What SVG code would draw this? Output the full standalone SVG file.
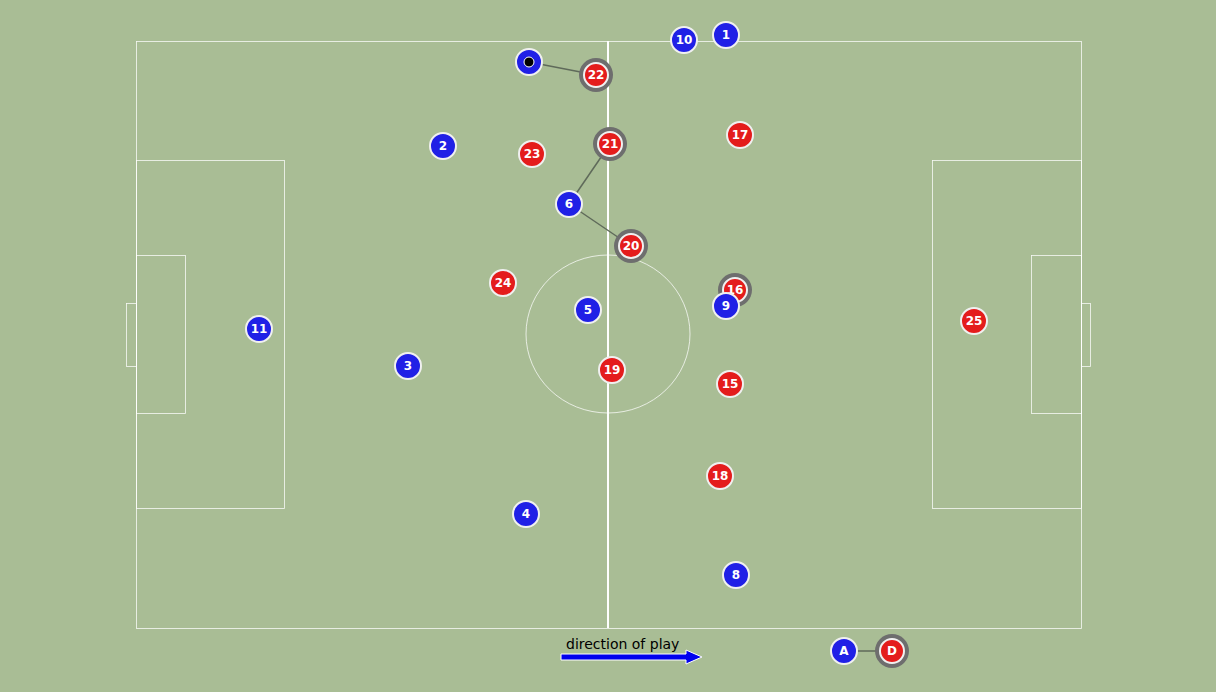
<svg xmlns="http://www.w3.org/2000/svg" width="1216" height="692" viewBox="0 0 1216 692">
<style>
.pl{fill:none;stroke:#ffffff;stroke-width:0.8;opacity:0.9}
.b{fill:#2020e6;stroke:#f0f0f0;stroke-width:2}
.r{fill:#e41c1c;stroke:#f0f0f0;stroke-width:2}
.ring{fill:#6e6e6e}
.t{font-family:"DejaVu Sans",sans-serif;font-weight:bold;font-size:12px;fill:#ffffff;text-anchor:middle;dominant-baseline:central}
.c{stroke:#5f6a5a;stroke-width:1.5;fill:none}
</style>
<rect width="1216" height="692" fill="#a9bd95"/>
<g id="pitch">
<rect class="pl" x="136.5" y="41.5" width="945" height="587"/>
<line x1="608" y1="41" x2="608" y2="628" stroke="#ffffff" stroke-width="2"/>
<ellipse class="pl" cx="608" cy="334" rx="82" ry="79"/>
<rect class="pl" x="136.5" y="160.5" width="148" height="348"/>
<rect class="pl" x="136.5" y="255.5" width="49" height="158"/>
<rect class="pl" x="126.5" y="303.5" width="10" height="63"/>
<rect class="pl" x="932.5" y="160.5" width="149" height="348"/>
<rect class="pl" x="1031.5" y="255.5" width="50" height="158"/>
<rect class="pl" x="1081.5" y="303.5" width="9" height="63"/>
</g>
<g id="connectors">
<line class="c" x1="529" y1="62" x2="596" y2="75"/>
<line class="c" x1="610" y1="144" x2="569" y2="204"/>
<line class="c" x1="569" y1="204" x2="631" y2="246"/>
<line class="c" x1="844" y1="651" x2="892" y2="651"/>
</g>
<g id="red22"><circle class="ring" cx="596" cy="75" r="17"/><circle class="r" cx="596" cy="75" r="12"/><text class="t" x="596" y="75">22</text></g>
<g id="red21"><circle class="ring" cx="610" cy="144" r="17"/><circle class="r" cx="610" cy="144" r="12"/><text class="t" x="610" y="144">21</text></g>
<g id="red20"><circle class="ring" cx="631" cy="246" r="17"/><circle class="r" cx="631" cy="246" r="12"/><text class="t" x="631" y="246">20</text></g>
<g id="red16"><circle class="ring" cx="735" cy="290" r="17"/><circle class="r" cx="735" cy="290" r="12"/><text class="t" x="735" y="290">16</text></g>
<g id="red23"><circle class="r" cx="532" cy="154" r="13"/><text class="t" x="532" y="154">23</text></g>
<g id="red17"><circle class="r" cx="740" cy="135" r="13"/><text class="t" x="740" y="135">17</text></g>
<g id="red24"><circle class="r" cx="503" cy="283" r="13"/><text class="t" x="503" y="283">24</text></g>
<g id="red19"><circle class="r" cx="612" cy="370" r="13"/><text class="t" x="612" y="370">19</text></g>
<g id="red15"><circle class="r" cx="730" cy="384" r="13"/><text class="t" x="730" y="384">15</text></g>
<g id="red18"><circle class="r" cx="720" cy="476" r="13"/><text class="t" x="720" y="476">18</text></g>
<g id="red25"><circle class="r" cx="974" cy="321" r="13"/><text class="t" x="974" y="321">25</text></g>
<g id="blueBall"><circle class="b" cx="529" cy="62" r="13"/><circle cx="529" cy="62" r="5" fill="#000000" stroke="#ffffff" stroke-width="1"/></g>
<g id="blue10"><circle class="b" cx="684" cy="40" r="13"/><text class="t" x="684" y="40">10</text></g>
<g id="blue1"><circle class="b" cx="726" cy="35" r="13"/><text class="t" x="726" y="35">1</text></g>
<g id="blue2"><circle class="b" cx="443" cy="146" r="13"/><text class="t" x="443" y="146">2</text></g>
<g id="blue6"><circle class="b" cx="569" cy="204" r="13"/><text class="t" x="569" y="204">6</text></g>
<g id="blue11"><circle class="b" cx="259" cy="329" r="13"/><text class="t" x="259" y="329">11</text></g>
<g id="blue3"><circle class="b" cx="408" cy="366" r="13"/><text class="t" x="408" y="366">3</text></g>
<g id="blue5"><circle class="b" cx="588" cy="310" r="13"/><text class="t" x="588" y="310">5</text></g>
<g id="blue9"><circle class="b" cx="726" cy="306" r="13"/><text class="t" x="726" y="306">9</text></g>
<g id="blue4"><circle class="b" cx="526" cy="514" r="13"/><text class="t" x="526" y="514">4</text></g>
<g id="blue8"><circle class="b" cx="736" cy="575" r="13"/><text class="t" x="736" y="575">8</text></g>
<g id="legendA"><circle class="b" cx="844" cy="651" r="13"/><text class="t" x="844" y="651">A</text></g>
<g id="legendD"><circle class="ring" cx="892" cy="651" r="17"/><circle class="r" cx="892" cy="651" r="12"/><text class="t" x="892" y="651">D</text></g>
<g id="direction">
<text x="566" y="649" font-family="DejaVu Sans, sans-serif" font-size="14" fill="#000000">direction of play</text>
<polygon points="561,654 686,654 686,650 702,657 686,664 686,660 561,660" fill="#0000ee" stroke="#ffffff" stroke-width="1"/>
</g>
</svg>
